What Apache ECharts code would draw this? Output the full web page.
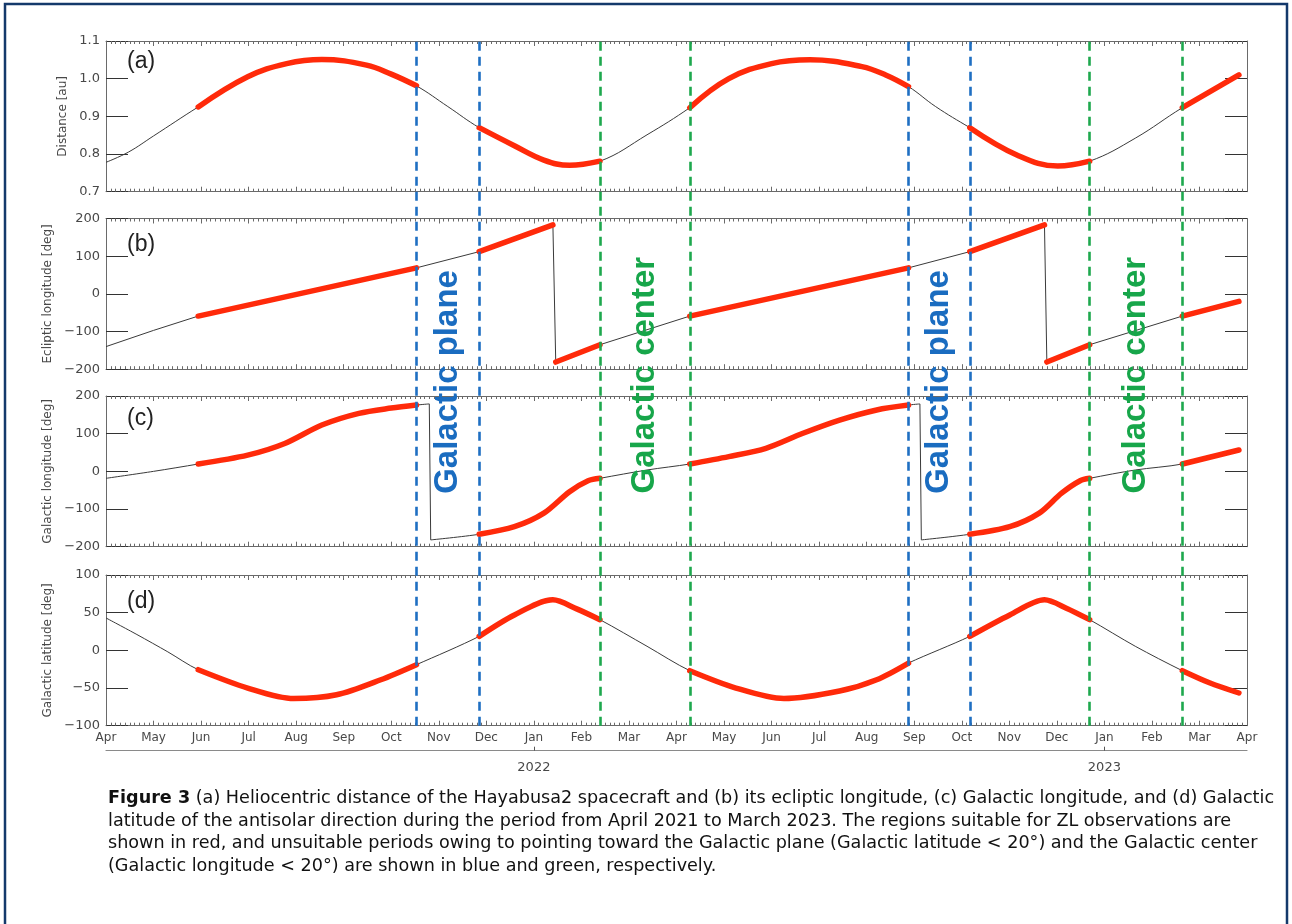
<!DOCTYPE html>
<html><head><meta charset="utf-8">
<script src="https://cdn.jsdelivr.net/npm/echarts@6/dist/echarts.min.js"></script>
<style>html,body{margin:0;padding:0;background:#fff}#c{width:1292px;height:924px}</style>
</head><body><div id="c"></div>
<script>
// x = month index (0 = Apr 2021 ... 24 = Apr 2023)
const monthLabels = ['Apr','May','Jun','Jul','Aug','Sep','Oct','Nov','Dec','Jan','Feb','Mar','Apr','May','Jun','Jul','Aug','Sep','Oct','Nov','Dec','Jan','Feb','Mar','Apr'];
const yearLabels = ['','','','','','','','','','2022','','','','','','','','','','','','2023','','',''];

const distance = [[0,0.778],[0.47,0.805],[1.0,0.848],[1.94,0.925],[2.98,1.005],[3.8,1.040],[4.54,1.051],[5.48,1.036],[6.0,1.012],[6.53,0.981],[7.19,0.926],[7.85,0.870],[8.59,0.822],[9.21,0.784],[9.75,0.770],[10.39,0.781],[11.38,0.851],[12.28,0.923],[13.1,1.000],[14.0,1.040],[14.81,1.050],[15.9,1.032],[16.4,1.010],[16.88,0.979],[17.45,0.926],[18.17,0.870],[19.17,0.797],[20.02,0.768],[20.69,0.781],[21.65,0.842],[22.64,0.923],[23.83,1.010]];
const eclipticLon = [[0,-140],[1.0,-97],[1.94,-59],[6.53,69],[7.85,112],[9.4,183],[9.46,-181],[10.39,-135],[12.28,-59],[16.88,69],[18.17,112],[19.74,183],[19.79,-181],[20.69,-135],[22.64,-59],[23.83,-20]];
const galacticLon = [[0,-18.5],[1.0,0],[1.94,19.5],[2.98,43],[3.76,74],[4.54,123],[5.32,154],[6.0,168],[6.53,176],[6.8,179],[6.83,-182],[7.85,-167],[8.59,-147],[9.21,-111],[9.75,-54],[10.14,-25],[10.39,-18.5],[11.38,3.6],[12.28,19.5],[13.1,39],[13.88,61],[14.66,101],[15.43,136],[16.21,163],[16.88,176],[17.12,179],[17.15,-182],[18.17,-167],[19.01,-147],[19.63,-111],[20.1,-58],[20.49,-25],[20.69,-18.5],[21.65,3.6],[22.64,19.5],[23.83,56.7]];
const galacticLat = [[0,43],[0.65,21],[1.3,-2],[1.94,-25.7],[2.98,-50],[3.95,-64],[4.85,-59],[5.78,-39],[6.53,-19],[7.85,18.6],[8.59,47],[9.4,67],[9.9,55],[10.39,40.7],[11.38,5.4],[12.28,-27],[13.25,-50],[14.26,-64],[15.43,-54],[16.21,-39],[16.88,-16.8],[18.17,18.6],[19.01,47],[19.74,67],[20.2,56],[20.69,40.7],[21.65,5.4],[22.64,-27],[23.21,-43],[23.83,-56.6]];

const redRanges = [[1.94,6.53],[7.85,10.39],[12.28,16.88],[18.17,20.69],[22.64,23.83]];
const planeLines = [6.53,7.85,16.88,18.17];
const centerLines = [10.39,12.28,20.69,22.64];

const panelLetters = ['(a)','(b)','(c)','(d)'];
const yNames = ['Distance [au]','Ecliptic longitude [deg]','Galactic longitude [deg]','Galactic latitude [deg]'];
const yScales = [[0.7,1.1,0.1],[-200,200,100],[-200,200,100],[-100,100,50]];
const captionLines = [
 '{b|Figure 3} (a) Heliocentric distance of the Hayabusa2 spacecraft and (b) its ecliptic longitude, (c) Galactic longitude, and (d) Galactic',
 'latitude of the antisolar direction during the period from April 2021 to March 2023. The regions suitable for ZL observations are',
 'shown in red, and unsuitable periods owing to pointing toward the Galactic plane (Galactic latitude < 20°) and the Galactic center',
 '(Galactic longitude < 20°) are shown in blue and green, respectively.'
];

const panels = [distance, eclipticLon, galacticLon, galacticLat];
const smoothOf = [0.4, 0, 0.3, 0.3];

function isJump(a, b){ return a && Math.abs(b[1]-a[1]) > 150; }
function rangeIdx(x){ return redRanges.findIndex(r => x >= r[0]-1e-9 && x <= r[1]+1e-9); }
function mainPart(pts){
  const out = [];
  pts.forEach((p, k) => { if (k && isJump(pts[k-1], p)) out.push([p[0], '-']); out.push(p); });
  return out;
}
function jumpPart(pts){
  const out = [];
  pts.forEach((p, k) => { if (k && isJump(pts[k-1], p)) { if (out.length) out.push([p[0], '-']); out.push(pts[k-1], p); } });
  return out;
}
function redPart(pts){
  const out = []; let prev = null, prevIdx = -1;
  for (const p of pts){
    const idx = rangeIdx(p[0]);
    if (idx >= 0){
      if (out.length && (idx !== prevIdx || isJump(prev, p))) out.push([p[0], '-']);
      out.push(p);
    }
    prevIdx = idx; prev = p;
  }
  return out;
}

const L = 106, W = 1141;
const tops = [41, 218.5, 396, 575], H = 150.7;
const axisCol = '#6a6a6a', labCol = '#484848';
const FONT = 'DejaVu Sans';

const grids = tops.map(t => ({left: L, width: W, top: t, height: H}));
grids.push({left: L, width: W, top: 41, height: 725.7-41});

const xAxes = [], yAxes = [], series = [];
tops.forEach((t, i) => {
  ['bottom','top'].forEach(pos => {
    xAxes.push({
      type: 'value', gridIndex: i, position: pos, min: 0, max: 24, interval: 1,
      axisLine: {onZero: false, lineStyle: {color: axisCol, width: 1}},
      axisTick: {inside: true, length: 5, lineStyle: {color: axisCol}},
      minorTick: {show: true, splitNumber: 10, length: 3, lineStyle: {color: axisCol}},
      splitLine: {show: false},
      axisLabel: (i === 3 && pos === 'bottom') ? {
        show: true, margin: 6, color: labCol, fontFamily: FONT, fontSize: 12,
        formatter: v => monthLabels[Math.round(v)] || ''
      } : {show: false}
    });
  });
  const sc = yScales[i];
  ['left','right'].forEach(pos => {
    yAxes.push({
      type: 'value', gridIndex: i, position: pos, min: sc[0], max: sc[1], interval: sc[2],
      axisLine: {show: true, onZero: false, lineStyle: {color: axisCol, width: 1}},
      axisTick: {show: true, inside: true, length: 22, lineStyle: {color: '#333'}},
      splitLine: {show: false},
      name: pos === 'left' ? yNames[i] : '',
      nameLocation: 'middle', nameRotate: 90, nameGap: i === 0 ? 35 : 51,
      nameTextStyle: {color: labCol, fontFamily: FONT, fontSize: 12},
      axisLabel: pos === 'left' ? {
        show: true, margin: 6, color: labCol, fontFamily: FONT, fontSize: 13,
        formatter: v => i === 0 ? v.toFixed(1) : String(v).replace('-', '\u2212')
      } : {show: false}
    });
  });
  series.push({
    type: 'line', xAxisIndex: 2*i, yAxisIndex: 2*i, data: mainPart(panels[i]), showSymbol: false, symbol: 'none',
    smooth: smoothOf[i], connectNulls: false, lineStyle: {color: '#3a3a3a', width: 1}, z: 3, silent: true
  });
  const jp = jumpPart(panels[i]);
  if (jp.length) series.push({
    type: 'line', xAxisIndex: 2*i, yAxisIndex: 2*i, data: jp, showSymbol: false, symbol: 'none',
    smooth: false, connectNulls: false, lineStyle: {color: '#3a3a3a', width: 1}, z: 3, silent: true
  });
  series.push({
    type: 'line', xAxisIndex: 2*i, yAxisIndex: 2*i, data: redPart(panels[i]), showSymbol: false, symbol: 'none',
    smooth: smoothOf[i], connectNulls: false,
    lineStyle: {color: '#ff2a0a', width: 5.5, cap: 'round'}, z: 4, silent: true
  });
});
// year axis under panel (d)
xAxes.push({
  type: 'category', gridIndex: 3, position: 'bottom', offset: 25, boundaryGap: false, data: yearLabels,
  axisLine: {show: true, onZero: false, lineStyle: {color: '#8a8a8a', width: 1.2}},
  axisTick: {show: true, inside: true, length: 4, interval: (idx, v) => v !== '', lineStyle: {color: '#555'}},
  axisLabel: {show: true, interval: 0, margin: 10, color: labCol, fontFamily: FONT, fontSize: 13},
  splitLine: {show: false}
});
// overlay axes
const ovX = xAxes.length;
xAxes.push({type: 'value', gridIndex: 4, min: 0, max: 24, show: false});
const ovY = yAxes.length;
yAxes.push({type: 'value', gridIndex: 4, min: 0, max: 1, show: false});

function dashSeries(vals, color){
  return {
    type: 'line', xAxisIndex: ovX, yAxisIndex: ovY, data: [], z: 6, silent: true,
    markLine: {
      symbol: 'none', silent: true, animation: false,
      label: {show: false},
      lineStyle: {color: color, type: [9, 6], width: 2.6, opacity: 1},
      data: vals.map(v => ({xAxis: v}))
    }
  };
}
series.push(dashSeries(planeLines, '#1f6fc2'));
series.push(dashSeries(centerLines, '#1ea84e'));

function mid(arr, k){ return (arr[k] + arr[k+1]) / 2; }
function textSeries(arr, text, color, yFrac){
  return {
    type: 'scatter', xAxisIndex: ovX, yAxisIndex: ovY, symbolSize: 0, z: 8, silent: true,
    itemStyle: {opacity: 1},
    data: [[mid(arr,0), yFrac], [mid(arr,2), yFrac]],
    label: {show: true, position: 'inside', rotate: 90, formatter: text, color: color, opacity: 1,
      fontFamily: 'Liberation Sans', fontWeight: 'bold', fontSize: 33, align: 'center', verticalAlign: 'middle'}
  };
}
series.push(textSeries(planeLines, 'Galactic plane', '#1a6cc0', 0.502));
series.push(textSeries(centerLines, 'Galactic center', '#17a64a', 0.512));

const letterCenters = [62, 245, 419, 602];
const CAPF = 'DejaVu Sans';
const graphic = [
  {type: 'rect', shape: {x: 5, y: 4, width: 1282, height: 960}, style: {fill: 'none', stroke: '#14396b', lineWidth: 2.5}, silent: true},
  {type: 'text', left: 108, top: 787, style: {
    text: captionLines.join('\n'), fill: '#111', fontFamily: CAPF, fontSize: 17.6, lineHeight: 22.7,
    rich: {b: {fontWeight: 'bold', fontFamily: CAPF, fontSize: 17.6, fill: '#111', lineHeight: 22.7}}
  }}
];
panelLetters.forEach((t, i) => graphic.push({type: 'text', left: 127, top: letterCenters[i] - 13,
  style: {text: t, fill: '#222', fontFamily: 'Liberation Sans', fontSize: 23, lineHeight: 26}, z: 10}));

const chart = echarts.init(document.getElementById('c'), null, {renderer: 'canvas'});
chart.setOption({
  animation: false, backgroundColor: '#fff',
  grid: grids, xAxis: xAxes, yAxis: yAxes, series: series, graphic: graphic
});
</script></body></html>
